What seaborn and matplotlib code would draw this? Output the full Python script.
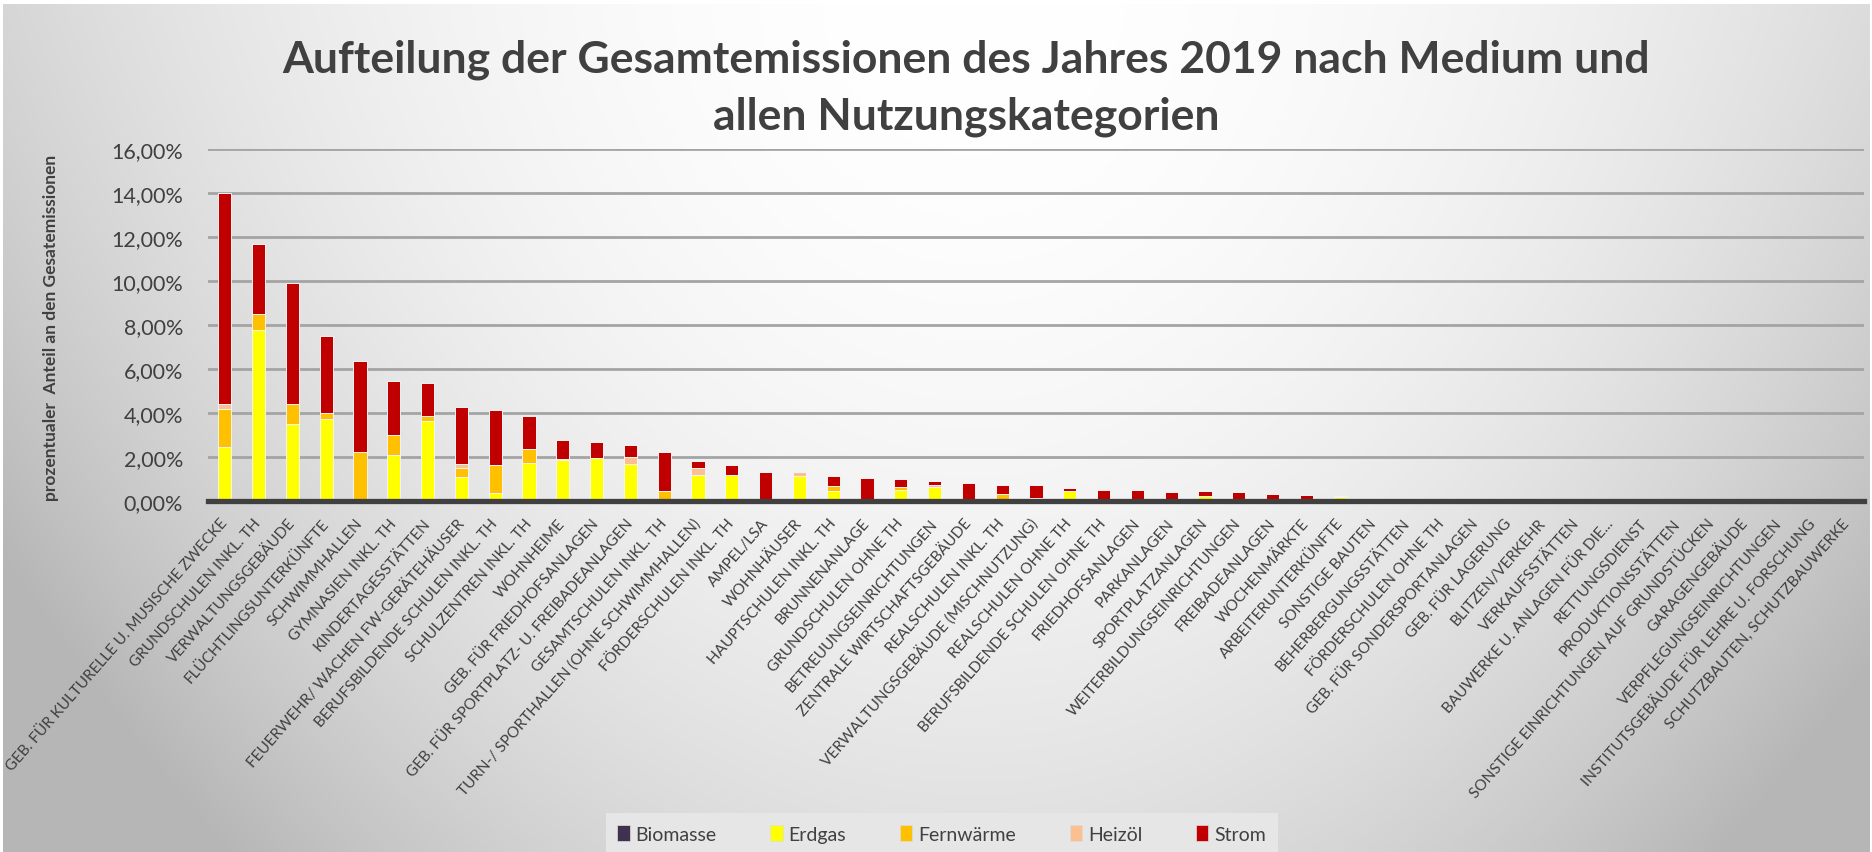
import numpy as np
import pandas as pd
import matplotlib
matplotlib.use("Agg")
import matplotlib.pyplot as plt
import seaborn as sns
from matplotlib.patches import Patch
from matplotlib.ticker import FuncFormatter

# Nutzungskategorien (sortiert nach Gesamtanteil)
kategorien = [
    "GEB. FÜR KULTURELLE U. MUSISCHE ZWECKE", "GRUNDSCHULEN INKL. TH", "VERWALTUNGSGEBÄUDE",
    "FLÜCHTLINGSUNTERKÜNFTE", "SCHWIMMHALLEN", "GYMNASIEN INKL. TH", "KINDERTAGESSTÄTTEN",
    "FEUERWEHR/ WACHEN FW-GERÄTEHÄUSER", "BERUFSBILDENDE SCHULEN INKL. TH", "SCHULZENTREN INKL. TH",
    "WOHNHEIME", "GEB. FÜR FRIEDHOFSANLAGEN", "GEB. FÜR SPORTPLATZ- U. FREIBADEANLAGEN",
    "GESAMTSCHULEN INKL. TH", "TURN-/ SPORTHALLEN (OHNE SCHWIMMHALLEN)", "FÖRDERSCHULEN INKL. TH",
    "AMPEL/LSA", "WOHNHÄUSER", "HAUPTSCHULEN INKL. TH", "BRUNNENANLAGE", "GRUNDSCHULEN OHNE TH",
    "BETREUUNGSEINRICHTUNGEN", "ZENTRALE WIRTSCHAFTSGEBÄUDE", "REALSCHULEN INKL. TH",
    "VERWALTUNGSGEBÄUDE (MISCHNUTZUNG)", "REALSCHULEN OHNE TH", "BERUFSBILDENDE SCHULEN OHNE TH",
    "FRIEDHOFSANLAGEN", "PARKANLAGEN", "SPORTPLATZANLAGEN", "WEITERBILDUNGSEINRICHTUNGEN",
    "FREIBADEANLAGEN", "WOCHENMÄRKTE", "ARBEITERUNTERKÜNFTE", "SONSTIGE BAUTEN",
    "BEHERBERGUNGSSTÄTTEN", "FÖRDERSCHULEN OHNE TH", "GEB. FÜR SONDERSPORTANLAGEN",
    "GEB. FÜR LAGERUNG", "BLITZEN/VERKEHR", "VERKAUFSSTÄTTEN", "BAUWERKE U. ANLAGEN FÜR DIE...",
    "RETTUNGSDIENST", "PRODUKTIONSSTÄTTEN", "SONSTIGE EINRICHTUNGEN AUF GRUNDSTÜCKEN",
    "GARAGENGEBÄUDE", "VERPFLEGUNGSEINRICHTUNGEN", "INSTITUTSGEBÄUDE FÜR LEHRE U. FORSCHUNG",
    "SCHUTZBAUTEN, SCHUTZBAUWERKE",
]

# Anteile in Prozent
biomasse = [0, 0, 0, 0, 0, 0, 0, 0, 0, 0,
            0, 0, 0, 0, 0, 0, 0, 0, 0, 0,
            0, 0, 0, 0, 0, 0, 0, 0, 0, 0,
            0, 0, 0, 0, 0, 0, 0, 0, 0, 0,
            0, 0, 0, 0, 0, 0, 0, 0, 0]
erdgas = [2.44, 7.76, 3.51, 3.73, 0, 2.08, 3.63, 1.11, 0.35, 1.73,
          1.85, 1.97, 1.67, 0, 1.16, 1.19, 0, 1.14, 0.47, 0,
          0.48, 0.63, 0, 0.10, 0, 0.45, 0, 0, 0.08, 0.22,
          0, 0, 0, 0.20, 0, 0, 0, 0, 0, 0,
          0, 0, 0, 0, 0, 0, 0, 0, 0]
fernwaerme = [1.75, 0.76, 0.90, 0.26, 2.21, 0.92, 0.24, 0.40, 1.29, 0.63,
              0, 0, 0, 0.44, 0, 0, 0, 0, 0.22, 0,
              0.17, 0, 0, 0.20, 0.08, 0, 0.04, 0.04, 0, 0,
              0.03, 0, 0, 0, 0, 0, 0, 0, 0, 0,
              0, 0, 0, 0, 0, 0, 0, 0, 0]
heizoel = [0.22, 0, 0, 0, 0, 0, 0, 0.15, 0, 0,
           0.05, 0, 0.35, 0, 0.36, 0, 0, 0.20, 0, 0,
           0, 0.10, 0, 0, 0.07, 0, 0, 0, 0, 0,
           0, 0.08, 0, 0.03, 0.02, 0.02, 0.01, 0, 0, 0,
           0, 0, 0, 0, 0, 0, 0, 0, 0]
strom = [9.59, 3.18, 5.50, 3.51, 4.15, 2.47, 1.49, 2.60, 2.50, 1.51,
         0.87, 0.71, 0.52, 1.79, 0.30, 0.45, 1.34, 0, 0.44, 1.05,
         0.33, 0.17, 0.83, 0.42, 0.56, 0.14, 0.46, 0.44, 0.34, 0.23,
         0.37, 0.22, 0.27, 0, 0, 0, 0, 0, 0, 0,
         0, 0, 0, 0, 0, 0, 0, 0, 0]

medien = ["Biomasse", "Erdgas", "Fernwärme", "Heizöl", "Strom"]
farben = ["#403151", "#ffff00", "#ffc000", "#fac090", "#c00000"]

df = pd.DataFrame({"Kategorie": kategorien, "Biomasse": biomasse, "Erdgas": erdgas,
                   "Fernwärme": fernwaerme, "Heizöl": heizoel, "Strom": strom})

plt.rcParams["font.family"] = ["Lato", "DejaVu Sans"]
text_col = "#404040"

fig = plt.figure(figsize=(18.72, 8.53), dpi=100)
fig.patch.set_facecolor("white")

# grauer Verlaufshintergrund
bg = fig.add_axes([3 / 1872, 0, 1 - 5 / 1872, 1 - 5 / 853], zorder=-10)
xx, yy = np.meshgrid(np.linspace(0, 1, 400), np.linspace(1, 0, 200))
h = ((xx - 0.52) / 0.48) ** 2 * (0.6 + 0.4 * (1 - yy))
v = (1 - yy) ** 2
g = np.clip(255 - 58 * h - 32 * v, 182, 255) / 255
bg.imshow(np.dstack([g, g, g]), aspect="auto", extent=[0, 1, 0, 1], interpolation="bilinear")
bg.axis("off")

ax = fig.add_axes([208 / 1872, 1 - 502 / 853, (1864 - 208) / 1872, (502 - 150) / 853])
ax.set_facecolor("none")

bottom = np.zeros(len(kategorien))
for medium, farbe in zip(medien, farben):
    sns.barplot(data=df, x="Kategorie", y=medium, order=kategorien, bottom=bottom,
                color=farbe, saturation=1, width=0.39, errorbar=None,
                edgecolor="#f4f4f4", linewidth=0.7, ax=ax, zorder=3)
    bottom = bottom + df[medium].to_numpy()

ax.set_xlim(-0.5, len(kategorien) - 0.5)
ax.set_ylim(0, 16)
ax.set_yticks(np.arange(0, 17, 2))
ax.yaxis.set_major_formatter(FuncFormatter(lambda v, p: f"{v:.2f}%".replace(".", ",")))
ax.grid(axis="y", color="#a4a4a4", linewidth=2.0, zorder=0)
ax.set_axisbelow(True)
for s in ax.spines.values():
    s.set_visible(False)
ax.axhline(0, color="#404040", linewidth=3.8, zorder=5, clip_on=False)
ax.set_xlabel("")
ax.set_ylabel("")
ax.tick_params(axis="both", length=0)
ax.tick_params(axis="y", labelsize=15.5, labelcolor=text_col, pad=18)
ax.tick_params(axis="x", labelsize=11, labelcolor=text_col, pad=14)
plt.setp(ax.get_xticklabels(), rotation=49, ha="right", va="center", rotation_mode="anchor")

fig.text(0.516, 0.897, "Aufteilung der Gesamtemissionen des Jahres 2019 nach Medium und\nallen Nutzungskategorien",
         ha="center", va="center", fontsize=32, fontweight="bold", color=text_col, linespacing=1.5)
fig.text(0.027, 0.615, "prozentualer  Anteil an den Gesatemissionen", rotation=90,
         ha="center", va="center", fontsize=12.5, fontweight="bold", color=text_col)

handles = [Patch(facecolor=c, edgecolor="#dddddd", linewidth=0.5) for c in farben]
leg = fig.legend(handles, medien, loc="upper center", bbox_to_anchor=(0.503, 0.057), ncol=5,
                 frameon=True, fontsize=14, handlelength=0.65, handleheight=0.9,
                 handletextpad=0.3, columnspacing=2.75, borderpad=0.6, fancybox=False)
leg.get_frame().set_facecolor("#e6e6e6")
leg.get_frame().set_edgecolor("none")
leg.get_frame().set_alpha(1)
for t in leg.get_texts():
    t.set_color(text_col)

fig.savefig("out.png", dpi=100)
